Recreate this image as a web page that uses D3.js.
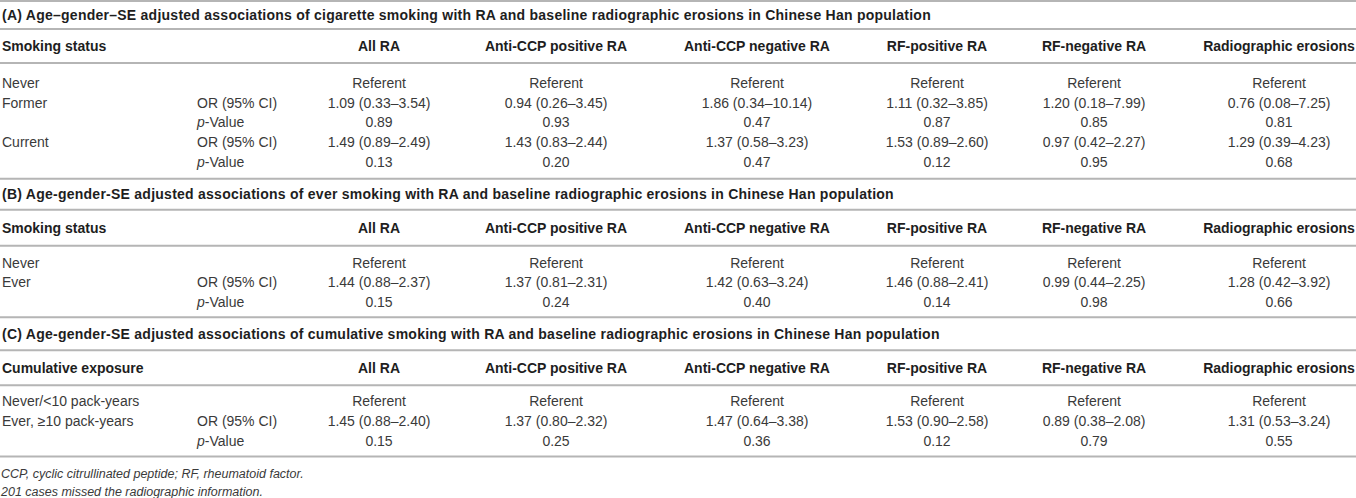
<!DOCTYPE html>
<html>
<head>
<meta charset="utf-8">
<script src="https://cdn.jsdelivr.net/npm/d3@7"></script>
<style>
  html, body { margin: 0; padding: 0; background: #fff; }
  text { font-family: "Liberation Sans", Arial, sans-serif; }
</style>
</head>
<body>
<script>
// table content
const columns = ['All RA', 'Anti-CCP positive RA', 'Anti-CCP negative RA', 'RF-positive RA', 'RF-negative RA', 'Radiographic erosions'];
const referent = ['Referent', 'Referent', 'Referent', 'Referent', 'Referent', 'Referent'];

const titleA = '(A) Age\u2013gender\u2013SE adjusted associations of cigarette smoking with RA and baseline radiographic erosions in Chinese Han population';
const formerOR = ['1.09 (0.33\u20133.54)', '0.94 (0.26\u20133.45)', '1.86 (0.34\u201310.14)', '1.11 (0.32\u20133.85)', '1.20 (0.18\u20137.99)', '0.76 (0.08\u20137.25)'];
const formerP = ['0.89', '0.93', '0.47', '0.87', '0.85', '0.81'];
const currentOR = ['1.49 (0.89\u20132.49)', '1.43 (0.83\u20132.44)', '1.37 (0.58\u20133.23)', '1.53 (0.89\u20132.60)', '0.97 (0.42\u20132.27)', '1.29 (0.39\u20134.23)'];
const currentP = ['0.13', '0.20', '0.47', '0.12', '0.95', '0.68'];

const titleB = '(B) Age-gender-SE adjusted associations of ever smoking with RA and baseline radiographic erosions in Chinese Han population';
const everOR = ['1.44 (0.88\u20132.37)', '1.37 (0.81\u20132.31)', '1.42 (0.63\u20133.24)', '1.46 (0.88\u20132.41)', '0.99 (0.44\u20132.25)', '1.28 (0.42\u20133.92)'];
const everP = ['0.15', '0.24', '0.40', '0.14', '0.98', '0.66'];

const titleC = '(C) Age-gender-SE adjusted associations of cumulative smoking with RA and baseline radiographic erosions in Chinese Han population';
const cumOR = ['1.45 (0.88\u20132.40)', '1.37 (0.80\u20132.32)', '1.47 (0.64\u20133.38)', '1.53 (0.90\u20132.58)', '0.89 (0.38\u20132.08)', '1.31 (0.53\u20133.24)'];
const cumP = ['0.15', '0.25', '0.36', '0.12', '0.79', '0.55'];

const footnotes = ['CCP, cyclic citrullinated peptide; RF, rheumatoid factor.', '201 cases missed the radiographic information.'];

const sections = [
  { title: titleA, head: 'Smoking status', rows: [
      ['Never', '', referent],
      ['Former', 'OR', formerOR],
      ['', 'p', formerP],
      ['Current', 'OR', currentOR],
      ['', 'p', currentP]
    ], bands: [28, 34, 20, 17] },
  { title: titleB, head: 'Smoking status', rows: [
      ['Never', '', referent],
      ['Ever', 'OR', everOR],
      ['', 'p', everP]
    ], bands: [31, 36, 17, 15] },
  { title: titleC, head: 'Cumulative exposure', rows: [
      ['Never/<10 pack-years', '', referent],
      ['Ever, \u226510 pack-years', 'OR', cumOR],
      ['', 'p', cumP]
    ], bands: [33, 35, 16, 16] }
];

const width = 1356;
const height = 498;
const rowPitch = 19.7;
const labelX = 2;
const statX = 197;

const x = d3.scaleOrdinal()
  .domain(columns)
  .range([379, 556, 757, 937, 1094, 1279]);

const lineColor = '#b5b5b5';
const textColor = '#3a3a3a';
const boldColor = '#1e1e1e';

let svg = d3.select('body')
  .append('svg')
  .attr('width', width)
  .attr('height', height);

const rule = (y) => {
  svg.append('line')
    .attr('x1', 0).attr('x2', width)
    .attr('y1', y).attr('y2', y)
    .attr('stroke', lineColor)
    .attr('stroke-width', 2);
};

let y = 1;
rule(y);

sections.forEach((sec) => {
  const [titleH, headH, rowTop, rowBottom] = sec.bands;

  // section title
  svg.append('text')
    .attr('x', labelX)
    .attr('y', y + titleH / 2)
    .attr('dy', '0.35em')
    .attr('font-size', 14)
    .attr('font-weight', 'bold')
    .attr('letter-spacing', 0.25)
    .attr('fill', boldColor)
    .text(sec.title);
  y += titleH;
  rule(y);

  // header row
  const headY = y + headH / 2;
  svg.append('text')
    .attr('x', labelX)
    .attr('y', headY)
    .attr('dy', '0.35em')
    .attr('font-size', 14)
    .attr('font-weight', 'bold')
    .attr('fill', boldColor)
    .text(sec.head);
  svg.append('g')
    .selectAll('text')
    .data(columns)
    .enter()
    .append('text')
    .attr('x', (d) => x(d))
    .attr('y', headY)
    .attr('dy', '0.35em')
    .attr('text-anchor', 'middle')
    .attr('font-size', 14)
    .attr('font-weight', 'bold')
    .attr('fill', boldColor)
    .text((d) => d);
  y += headH;
  rule(y);

  // body rows
  const firstRow = y + rowTop;
  sec.rows.forEach((row, i) => {
    const ry = firstRow + i * rowPitch;
    const [label, stat, values] = row;
    if (label) {
      svg.append('text')
        .attr('x', labelX)
        .attr('y', ry)
        .attr('dy', '0.35em')
        .attr('font-size', 14)
        .attr('fill', textColor)
        .text(label);
    }
    if (stat === 'OR') {
      svg.append('text')
        .attr('x', statX)
        .attr('y', ry)
        .attr('dy', '0.35em')
        .attr('font-size', 14)
        .attr('fill', textColor)
        .text('OR (95% CI)');
    } else if (stat === 'p') {
      let t = svg.append('text')
        .attr('x', statX)
        .attr('y', ry)
        .attr('dy', '0.35em')
        .attr('font-size', 14)
        .attr('fill', textColor);
      t.append('tspan').attr('font-style', 'italic').text('p');
      t.append('tspan').text('-Value');
    }
    svg.append('g')
      .selectAll('text')
      .data(values)
      .enter()
      .append('text')
      .attr('x', (d, j) => x(columns[j]))
      .attr('y', ry)
      .attr('dy', '0.35em')
      .attr('text-anchor', 'middle')
      .attr('font-size', 14)
      .attr('fill', textColor)
      .text((d) => d);
  });
  y = firstRow + (sec.rows.length - 1) * rowPitch + rowBottom;
  rule(y);
});

// footnotes
svg.append('g')
  .selectAll('text')
  .data(footnotes)
  .enter()
  .append('text')
  .attr('x', labelX - 1)
  .attr('y', (d, i) => y + 17.5 + i * 17.5)
  .attr('dy', '0.35em')
  .attr('font-size', 12.5)
  .attr('font-style', 'italic')
  .attr('fill', textColor)
  .text((d) => d);
</script>
</body>
</html>
